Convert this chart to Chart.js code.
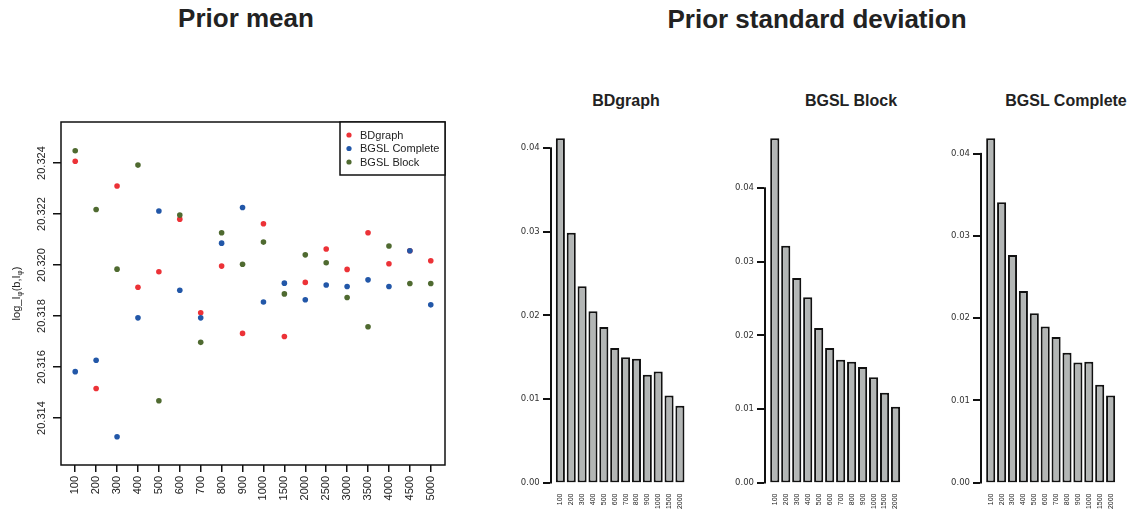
<!DOCTYPE html>
<html>
<head>
<meta charset="utf-8">
<script src="https://cdn.jsdelivr.net/npm/chart.js@4.4.0/dist/chart.umd.min.js"></script>
<style>
  html, body { margin: 0; padding: 0; background: #fff; overflow: hidden; }
  #wrap { position: relative; width: 1139px; height: 512px; overflow: hidden; background: #fff;
          font-family: "Liberation Sans", Arial, sans-serif; color: #222; }
  #wrap canvas { position: absolute; }
  .title { position: absolute; font-weight: bold; text-align: center; white-space: nowrap; }
  .big { font-size: 26px; line-height: 26px; width: 400px; }
  .small { font-size: 16px; line-height: 16px; width: 200px; }
</style>
</head>
<body>
<div id="wrap">
  <div class="title big" style="left:46px; top:5px;">Prior mean</div>
  <div class="title big" style="left:617px; top:6px;">Prior standard deviation</div>
  <div class="title small" style="left:526px; top:93px;">BDgraph</div>
  <div class="title small" style="left:751px; top:93px;">BGSL Block</div>
  <div class="title small" style="left:966px; top:93px;">BGSL Complete</div>
  <canvas id="mean-chart" width="460" height="412" style="left:0; top:100px;"></canvas>
  <canvas id="sd-bdgraph" width="200" height="432" style="left:500px; top:80px;"></canvas>
  <canvas id="sd-block" width="210" height="432" style="left:710px; top:80px;"></canvas>
  <canvas id="sd-complete" width="219" height="432" style="left:920px; top:80px;"></canvas>
</div>
<script>
// sample sizes used for the prior mean runs
const sampleSizes = ['100', '200', '300', '400', '500', '600', '700', '800', '900', '1000',
  '1500', '2000', '2500', '3000', '3500', '4000', '4500', '5000'];

// prior mean per sample size
const bdgraphMean = [20.32407, 20.31516, 20.32310, 20.31913, 20.31974, 20.32180, 20.31813, 20.31996, 20.31732,
  20.32162, 20.31720, 20.31932, 20.32063, 20.31983, 20.32127, 20.32005, 20.32056, 20.32017];
const completeMean = [20.31582, 20.31627, 20.31327, 20.31793, 20.32212, 20.31901, 20.31793, 20.32086, 20.32226,
  20.31855, 20.31929, 20.31864, 20.31922, 20.31916, 20.31942, 20.31916, 20.32056, 20.31844];
const blockMean = [20.32448, 20.32218, 20.31984, 20.32392, 20.31468, 20.32196, 20.31697, 20.32127, 20.32003,
  20.32090, 20.31887, 20.32040, 20.32009, 20.31873, 20.31758, 20.32075, 20.31928, 20.31928];
const meanTicks = [20.314, 20.316, 20.318, 20.320, 20.322, 20.324];

// sample sizes and prior standard deviation for the bar panels
const sdSizes = ['100', '200', '300', '400', '500', '600', '700', '800', '900', '1000', '1500', '2000'];
const bdgraphSd = [0.0412, 0.0299, 0.0235, 0.0205, 0.0186, 0.0161, 0.0150, 0.0148, 0.0129, 0.0133, 0.0104, 0.0092];
const blockSd = [0.0468, 0.0322, 0.0278, 0.0252, 0.0210, 0.0183, 0.0167, 0.0164, 0.0157, 0.0143, 0.0122, 0.0103];
const completeSd = [0.0419, 0.0341, 0.0277, 0.0233, 0.0206, 0.0190, 0.0177, 0.0158, 0.0146, 0.0147, 0.0119, 0.0106];
const sdTicks = [0, 0.01, 0.02, 0.03, 0.04];

const FONT = '"Liberation Sans", Arial, sans-serif';
const INK = '#111';
const RED = '#ec3237';
const BLUE = '#2257a8';
const GREEN = '#4f6a30';
const BAR_GREY = '#b3b6b5';

Chart.defaults.font.family = FONT;
Chart.defaults.color = '#222';

// box, rotated y labels, axis title and legend for the mean panel
const meanFrame = {
  id: 'meanFrame',
  afterDraw(chart) {
    const { ctx, chartArea: a, scales } = chart;
    ctx.save();
    ctx.strokeStyle = INK;
    ctx.lineWidth = 1.5;
    ctx.strokeRect(a.left, a.top, a.right - a.left, a.bottom - a.top);

    ctx.fillStyle = '#222';
    ctx.font = '11px ' + FONT;
    ctx.textAlign = 'center';
    ctx.textBaseline = 'middle';
    scales.y.ticks.forEach((t) => {
      const y = scales.y.getPixelForValue(t.value);
      ctx.save();
      ctx.translate(42, y);
      ctx.rotate(-Math.PI / 2);
      ctx.fillText(t.value.toFixed(3), 0, 0);
      ctx.restore();
    });

    // y axis title with subscripts
    const parts = [['log_I', false], ['\u03c6', true], ['(b,I', false], ['\u03c6', true], [')', false]];
    const widthOf = (p) => {
      ctx.font = (p[1] ? '8px ' : '11px ') + FONT;
      return ctx.measureText(p[0]).width;
    };
    const total = parts.reduce((s, p) => s + widthOf(p), 0);
    ctx.save();
    ctx.translate(16, (a.top + a.bottom) / 2);
    ctx.rotate(-Math.PI / 2);
    ctx.textAlign = 'left';
    ctx.textBaseline = 'alphabetic';
    let x = -total / 2;
    parts.forEach((p) => {
      const w = widthOf(p);
      ctx.fillText(p[0], x, p[1] ? 6 : 4);
      x += w;
    });
    ctx.restore();

    // legend in the top right corner
    const boxW = 105;
    const boxH = 53;
    ctx.fillStyle = '#fff';
    ctx.fillRect(a.right - boxW, a.top, boxW, boxH);
    ctx.strokeRect(a.right - boxW, a.top, boxW, boxH);
    ctx.font = '11px ' + FONT;
    ctx.textAlign = 'left';
    ctx.textBaseline = 'middle';
    chart.data.datasets.forEach((ds, i) => {
      const rowY = a.top + 13 + i * 13.5;
      ctx.fillStyle = ds.backgroundColor;
      ctx.beginPath();
      ctx.arc(a.right - boxW + 9, rowY, 2.6, 0, Math.PI * 2);
      ctx.fill();
      ctx.fillStyle = '#222';
      ctx.fillText(ds.label, a.right - boxW + 20, rowY + 0.5);
    });
    ctx.restore();
  }
};

function toPoints(values) {
  return values.map((v, i) => ({ x: i + 1, y: v }));
}

new Chart(document.getElementById('mean-chart'), {
  type: 'scatter',
  data: {
    datasets: [
      { label: 'BDgraph', data: toPoints(bdgraphMean), backgroundColor: RED, order: 3 },
      { label: 'BGSL Complete', data: toPoints(completeMean), backgroundColor: BLUE, order: 2 },
      { label: 'BGSL Block', data: toPoints(blockMean), backgroundColor: GREEN, order: 1 }
    ]
  },
  options: {
    responsive: false,
    animation: false,
    elements: { point: { radius: 2.8, borderWidth: 0 } },
    layout: { padding: { top: 22, right: 15, left: 0, bottom: 0 } },
    plugins: { legend: { display: false }, tooltip: { enabled: false } },
    scales: {
      x: {
        type: 'linear',
        min: 0.32,
        max: 18.68,
        afterBuildTicks: (s) => { s.ticks = sampleSizes.map((_, i) => ({ value: i + 1 })); },
        afterFit: (s) => { s.height = 47; },
        ticks: {
          autoSkip: false, minRotation: 90, maxRotation: 90, padding: 4,
          font: { size: 11 }, color: '#222',
          callback: (v) => sampleSizes[v - 1]
        },
        grid: { drawOnChartArea: false, tickLength: 7, color: INK, lineWidth: 1.5 },
        border: { display: false }
      },
      y: {
        min: 20.31216,
        max: 20.32561,
        afterBuildTicks: (s) => { s.ticks = meanTicks.map((v) => ({ value: v })); },
        afterFit: (s) => { s.width = 61; },
        ticks: { display: false },
        grid: { drawOnChartArea: false, tickLength: 8, color: INK, lineWidth: 1.5 },
        border: { display: false }
      }
    }
  },
  plugins: [meanFrame]
});

// y axis for the bar panels: the line only runs over the tick range
const sdAxis = {
  id: 'sdAxis',
  afterDraw(chart) {
    const { ctx, chartArea: a, scales } = chart;
    const x0 = Math.round(a.left) - 1;
    const yBottom = scales.y.getPixelForValue(0);
    const yTop = scales.y.getPixelForValue(sdTicks[sdTicks.length - 1]);
    ctx.save();
    ctx.fillStyle = INK;
    ctx.fillRect(x0, yTop - 1, 2, yBottom - yTop + 2);
    sdTicks.forEach((v) => {
      const y = Math.round(scales.y.getPixelForValue(v));
      ctx.fillRect(x0 - 7, y - 1, 7, 2);
    });
    ctx.restore();
  }
};

function drawSdChart(canvasId, values, axisWidth, rightPad) {
  const yMax = Math.max(...values) * 1.04;
  new Chart(document.getElementById(canvasId), {
    type: 'bar',
    data: {
      datasets: [{
        data: values.map((v, i) => ({ x: i, y: v })),
        backgroundColor: BAR_GREY,
        borderColor: INK,
        borderWidth: 2,
        borderSkipped: false,
        barPercentage: 1 / 1.2,
        categoryPercentage: 1
      }]
    },
    options: {
      responsive: false,
      animation: false,
      layout: { padding: { top: 44.5, right: rightPad, left: 0, bottom: 0 } },
      plugins: { legend: { display: false }, tooltip: { enabled: false } },
      scales: {
        x: {
          type: 'linear',
          min: -0.89,
          max: values.length - 1 + 0.89,
          offset: false,
          afterBuildTicks: (s) => { s.ticks = values.map((_, i) => ({ value: i })); },
          afterFit: (s) => { s.height = 29.5; },
          ticks: {
            autoSkip: false, minRotation: 90, maxRotation: 90, padding: 11,
            font: { size: 7 }, color: '#222',
            callback: (v) => sdSizes[v]
          },
          grid: { display: false, drawTicks: false },
          border: { display: false }
        },
        y: {
          min: 0,
          max: yMax,
          afterBuildTicks: (s) => { s.ticks = sdTicks.map((v) => ({ value: v })); },
          afterFit: (s) => { s.width = axisWidth; },
          ticks: {
            padding: 11, color: '#333',
            font: { family: '"DejaVu Sans", sans-serif', size: 8.5 },
            callback: (v) => v.toFixed(2)
          },
          grid: { display: false, drawTicks: false },
          border: { display: false }
        }
      }
    },
    plugins: [sdAxis]
  });
}

drawSdChart('sd-bdgraph', bdgraphSd, 50.7, 9.7);
drawSdChart('sd-block', blockSd, 55, 14.7);
drawSdChart('sd-complete', completeSd, 61, 18.7);
</script>
</body>
</html>
